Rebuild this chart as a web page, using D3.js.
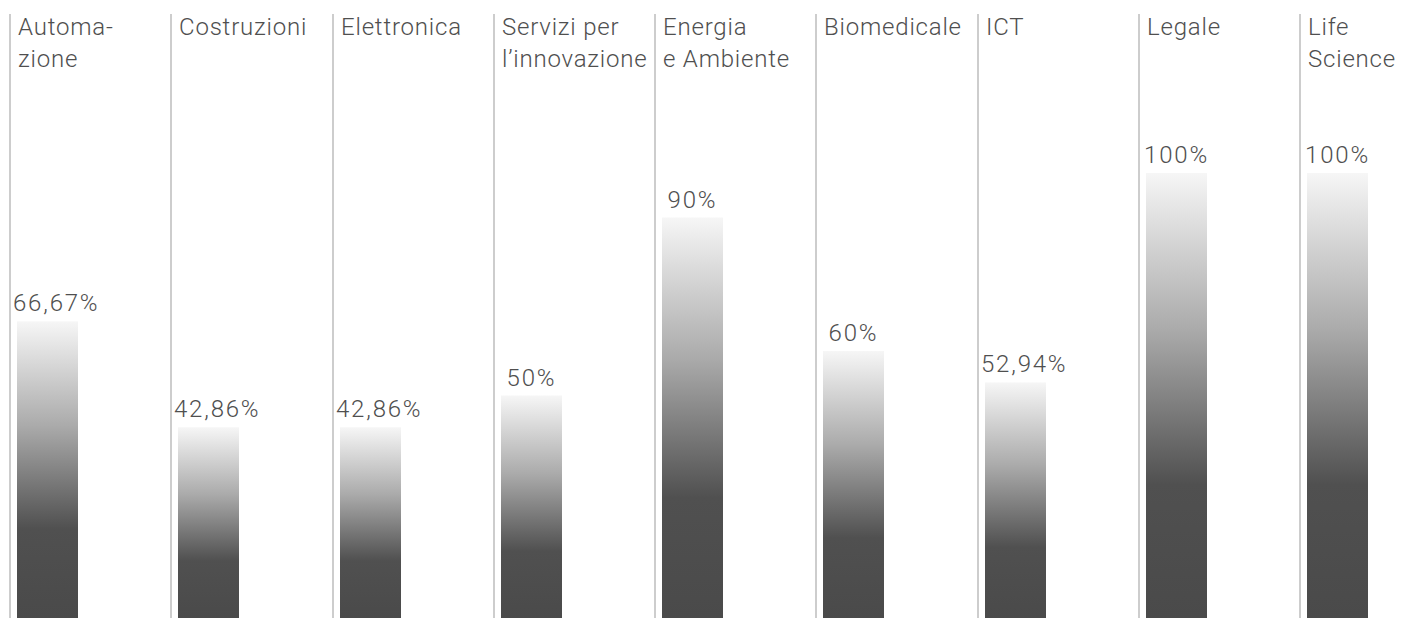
<!DOCTYPE html>
<html>
<head>
<meta charset="utf-8">
<script src="https://cdn.jsdelivr.net/npm/d3@7"></script>
<style>
  html, body { margin: 0; padding: 0; background: #fff; }
  svg text { font-family: Roboto, "Liberation Sans", sans-serif; font-weight: 300; fill: #4f4f4f; }
  .head { letter-spacing: 0.8px; }
  .val { letter-spacing: 1.8px; }
</style>
</head>
<body>
<svg width="1404" height="618"></svg>
<script>
/*
 * Sectors (line breaks as in the original headers) and share values in %
 */
var sectors = ["Automa-\nzione", "Costruzioni", "Elettronica", "Servizi per\nl\u2019innovazione",
               "Energia\ne Ambiente", "Biomedicale", "ICT", "Legale", "Life\nScience"],
    shares = [66.67, 42.86, 42.86, 50, 90, 60, 52.94, 100, 100],
    shareDomain = [0, 100];

var svg = d3.select("svg"),
    width = +svg.attr("width"),
    height = +svg.attr("height"),
    colStep = 161.25,
    barWidth = 61,
    barGap = 7;

// italian number format: comma as decimal separator
var it = d3.formatLocale({decimal: ",", thousands: ".", grouping: [3], currency: ["€", ""]}),
    fmt = it.format(".2~f");

var x = d3.scaleBand()
    .domain(sectors)
    .range([10, 10 + colStep * sectors.length]);

var y = d3.scaleLinear()
    .domain(shareDomain)
    .range([height, 173]);

// gradient white at top -> dark grey at bottom, per bar
var grad = svg.append("defs").append("linearGradient")
    .attr("id", "barGrad")
    .attr("x1", 0).attr("y1", 0).attr("x2", 0).attr("y2", 1);
grad.append("stop").attr("offset", "0%").attr("stop-color", "#f6f6f6");
grad.append("stop").attr("offset", "35%").attr("stop-color", "#ababab");
grad.append("stop").attr("offset", "70%").attr("stop-color", "#505050");
grad.append("stop").attr("offset", "100%").attr("stop-color", "#4a4a4a");

var col = svg.selectAll("g.col")
    .data(sectors.map(function(s, i) { return {name: s, value: shares[i]}; }))
  .enter().append("g")
    .attr("class", "col")
    .attr("transform", function(d) { return "translate(" + Math.round(x(d.name)) + ",0)"; });

// vertical divider
col.append("line")
    .attr("x1", 0).attr("x2", 0)
    .attr("y1", 14).attr("y2", height)
    .attr("stroke", "#bdbdbd")
    .attr("stroke-width", 1.5);

// header
col.append("text")
    .attr("class", "head")
    .attr("x", 8)
    .attr("y", 35)
    .style("font-size", "24px")
    .selectAll("tspan")
    .data(function(d) { return d.name.split("\n"); })
  .enter().append("tspan")
    .attr("x", 8)
    .attr("dy", function(d, i) { return i ? 32 : 0; })
    .text(function(d) { return d; });

// bar
col.append("rect")
    .attr("x", barGap)
    .attr("width", barWidth)
    .attr("y", function(d) { return y(d.value); })
    .attr("height", function(d) { return y(0) - y(d.value); })
    .attr("fill", "url(#barGrad)");

// value label: centered on bar, but not past the divider
col.append("text")
    .attr("class", "val")
    .attr("y", function(d) { return y(d.value) - 10; })
    .style("font-size", "24px")
    .text(function(d) { return fmt(d.value) + "%"; })
    .attr("x", function() {
      var w = this.getComputedTextLength();
      return Math.max(barGap + barWidth / 2 - w / 2, 3);
    });
</script>
</body>
</html>
